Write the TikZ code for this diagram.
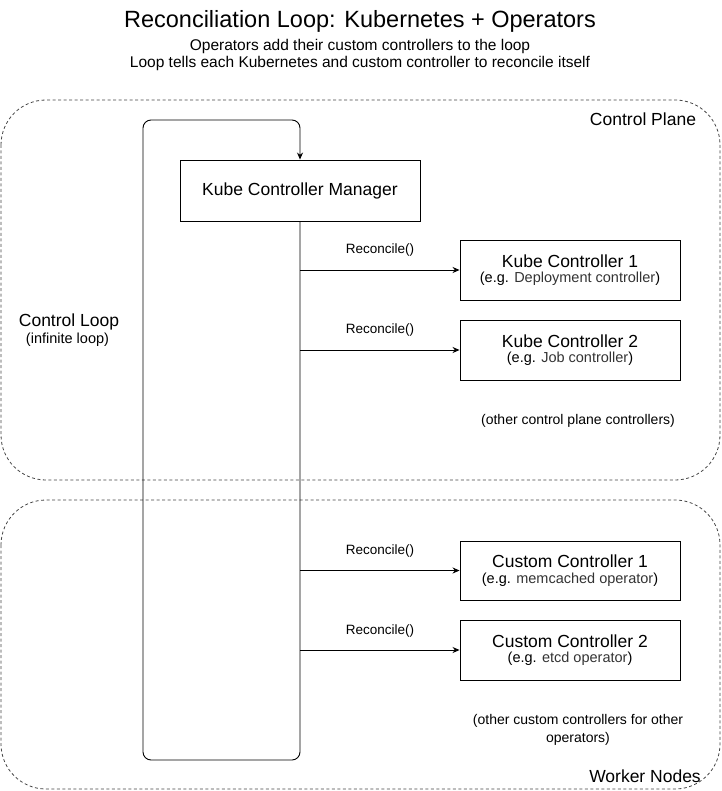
\documentclass[tikz,border=0pt]{standalone}
\usepackage{fontspec}
\setmainfont{Liberation Sans}
\usetikzlibrary{arrows.meta}
\definecolor{subgray}{HTML}{333333}
\definecolor{dashgray}{HTML}{444444}
\begin{document}
\begin{tikzpicture}[x=1pt,y=-1pt,
  container/.style={draw=dashgray, dash pattern=on 3pt off 2.5pt, line width=0.8pt, rounded corners=45pt},
  ctlbox/.style={draw=black, line width=0.9pt, minimum width=220pt, minimum height=60pt, align=center, inner sep=0pt, font=\fontsize{14.5}{15.5}\selectfont},
  arr/.style={-{Stealth[length=7pt,width=6pt]}, line width=0.9pt},
  lbl/.style={font=\fontsize{13.5}{15}\selectfont},
  big/.style={font=\fontsize{17.5}{20}\selectfont},
  note/.style={font=\fontsize{14}{18}\selectfont, align=center}]
\useasboundingbox (0,0) rectangle (721,791);
% containers
\draw[container] (1,100) rectangle (720,480);
\draw[container] (1,500) rectangle (720,789);
\node[big] (cpl) at (643,119) {Control Plane};
\node[big] (wnl) at (645,776) {Worker Nodes};
% titles
\node[font=\fontsize{23.5}{26}\selectfont] (title) at (360,21) {Reconciliation Loop: Kubernetes + Operators};
\node[font=\fontsize{15.5}{17}\selectfont, align=center] (sub) at (360,55) {Operators add their custom controllers to the loop\\Loop tells each Kubernetes and custom controller to reconcile itself};
% manager
\node[draw=black, line width=0.9pt, minimum width=240pt, minimum height=61pt, big] (kcm) at (300,190.5) {Kube Controller Manager};
% controllers
\node[ctlbox] (kc1) at (570,270) {{\fontsize{17.5}{20}\selectfont Kube Controller 1}\\(e.g. \textcolor{subgray}{Deployment controller})};
\node[ctlbox] (kc2) at (570,350) {{\fontsize{17.5}{20}\selectfont Kube Controller 2}\\(e.g. \textcolor{subgray}{Job controller})};
\node[ctlbox, minimum height=59pt] (cc1) at (570,570.5) {{\fontsize{17.5}{20}\selectfont Custom Controller 1}\\(e.g. \textcolor{subgray}{memcached operator})};
\node[ctlbox] (cc2) at (570,650) {{\fontsize{17.5}{20}\selectfont Custom Controller 2}\\(e.g. \textcolor{subgray}{etcd operator})};
\node[note] (ocp) at (578,421) {(other control plane controllers)};
\node[note] (occ) at (578,730) {(other custom controllers for other\\operators)};
% control loop label
\node[big] (cl) at (69,322) {Control Loop};
\node[font=\fontsize{14.5}{17}\selectfont] (cli) at (67.5,340) {(infinite loop)};
% loop
\coordinate (lb) at (143,760);
\coordinate (lt) at (143,120);
\draw[arr, rounded corners=8pt] (kcm.south) -- (kcm.south |- lb) -- (lb) -- (lt) -| (kcm.north);
% reconcile arrows
\draw[arr] (kcm.south |- kc1.west) -- (kc1.west);
\draw[arr] (kcm.south |- kc2.west) -- (kc2.west);
\draw[arr] (kcm.south |- cc1.west) -- (cc1.west);
\draw[arr] (kcm.south |- cc2.west) -- (cc2.west);
\node[lbl] (r1) at (380,250) {Reconcile()};
\node[lbl] (r2) at (380,330) {Reconcile()};
\node[lbl] (r3) at (380,551) {Reconcile()};
\node[lbl] (r4) at (380,631) {Reconcile()};
\end{tikzpicture}
\end{document}
